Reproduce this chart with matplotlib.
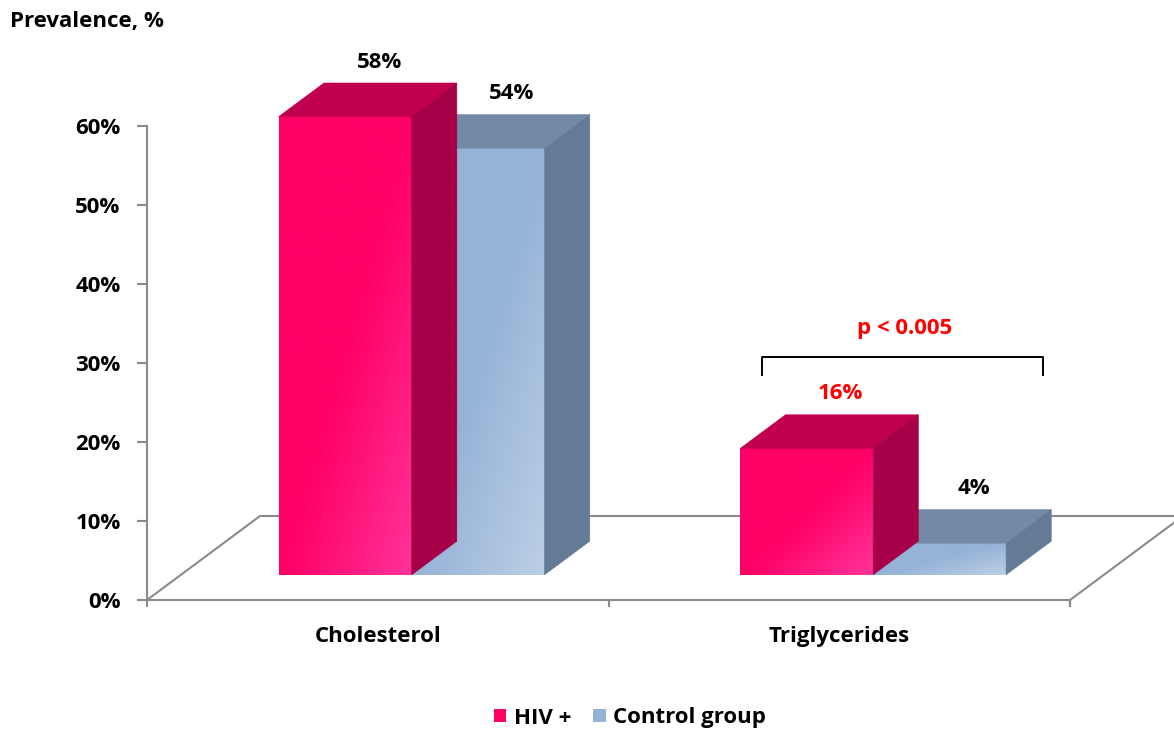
import numpy as np
import matplotlib
matplotlib.use("Agg")
import matplotlib.pyplot as plt
from matplotlib.patches import Polygon, Patch
from matplotlib.ticker import FuncFormatter

plt.rcParams['font.family'] = ['Open Sans', 'DejaVu Sans']
plt.rcParams['font.weight'] = 'bold'
FS = 16

categories = ['Cholesterol', 'Triglycerides']
series = ['HIV +', 'Control group']
hiv = [58, 16]
control = [54, 4]
label_colors = [['black', 'red'], ['black', 'black']]

# face colours: front, front highlight, top, side
styles = {
    'HIV +': ('#FF0066', '#FF3399', '#C0004E', '#A50048'),
    'Control group': ('#95B3D7', '#BCCFE6', '#7389A5', '#647A95'),
}

W, H = 1174, 729
fig = plt.figure(figsize=(W / 100, H / 100), dpi=100)
ax = fig.add_axes([147 / W, (H - 600) / H, (1070 - 147) / W, (600 - 126) / H])
ax.set_xlim(-0.5, 1.5)
ax.set_ylim(0, 60)

# oblique projection of the depth axis (full floor depth)
DX = 113 / 461.5
DY = 84 / 7.9
D0, D1 = 0.3, 0.7
BW = 0.288
GREY = '#8A8A8A'


def proj(x, z, d):
    return (x + d * DX, z + d * DY)


def face(pts, color, z):
    p = Polygon([proj(*q) for q in pts], closed=True, facecolor=color,
                edgecolor=color, lw=0.4, zorder=z, clip_on=False)
    ax.add_patch(p)


def bar3d(x0, x1, h, name, z):
    front, light, top, side = styles[name]
    fx0, fy0 = proj(x0, 0, D0)
    fx1, fy1 = proj(x1, h, D0)
    u, v = np.meshgrid(np.linspace(0, 1, 120), np.linspace(0, 1, 240))
    t = np.clip(u + v - 1.0, 0, 1)[..., None]
    c0 = np.array(matplotlib.colors.to_rgb(front))
    c1 = np.array(matplotlib.colors.to_rgb(light))
    img = c0 + (c1 - c0) * t
    ax.imshow(img, extent=(fx0, fx1, fy0, fy1), origin='upper',
              aspect='auto', zorder=z, clip_on=False, interpolation='bilinear')
    face([(x0, h, D0), (x1, h, D0), (x1, h, D1), (x0, h, D1)], top, z)
    face([(x1, 0, D0), (x1, 0, D1), (x1, h, D1), (x1, h, D0)], side, z)


# floor
floor = [proj(-0.5, 0, 0), proj(-0.5, 0, 1), proj(1.5, 0, 1), proj(1.5, 0, 0)]
ax.plot([p[0] for p in floor], [p[1] for p in floor], color=GREY, lw=1.5,
        clip_on=False, zorder=1, solid_joinstyle='miter')

for i, c in enumerate(categories):
    bar3d(i, i + BW, control[i], 'Control group', 3)
    bar3d(i - BW, i, hiv[i], 'HIV +', 4)
    for k, (vals, x0) in enumerate([(hiv, i - BW), (control, i)]):
        lx, ly = proj(x0 + BW / 2, vals[i], D0 + 0.75 * (D1 - D0))
        ly = vals[i] + D1 * DY
        ax.annotate(f'{vals[i]}%', (lx, ly), xytext=(0, 15),
                    textcoords='offset points', ha='center', va='center',
                    fontsize=FS, fontweight='bold', color=label_colors[k][i],
                    annotation_clip=False)

# significance bracket over triglycerides
bx0, bx1, by0, by1 = 0.833, 1.441, 28.5, 30.8
ax.plot([bx0, bx0, bx1, bx1], [by0, by1, by1, by0], color='black', lw=1.4,
        clip_on=False, zorder=5)
ax.text(1.1425, 34.4, 'p < 0.005', color='red', fontsize=FS,
        fontweight='bold', ha='center', va='center')

# axes styling
for s in ['top', 'right']:
    ax.spines[s].set_visible(False)
for s in ['left', 'bottom']:
    ax.spines[s].set_color(GREY)
    ax.spines[s].set_linewidth(1.5)
ax.spines['left'].set_zorder(2)
ax.set_facecolor('none')
ax.set_yticks(np.arange(0, 61, 10))
ax.yaxis.set_major_formatter(FuncFormatter(lambda v, p: f'{v:.0f}%'))
ax.tick_params(axis='y', length=7, width=1.5, color=GREY, pad=12,
               labelsize=FS)
ax.set_xticks(range(len(categories)))
ax.set_xticklabels(categories)
ax.set_xticks([-0.5, 0.5, 1.5], minor=True)
ax.tick_params(axis='x', which='major', length=0, pad=19, labelsize=FS)
ax.tick_params(axis='x', which='minor', length=5, width=1.5, color=GREY)
for lab in ax.get_xticklabels() + ax.get_yticklabels():
    lab.set_fontweight('bold')

fig.text(10 / W, 1 - 22 / H, 'Prevalence, %', fontsize=FS,
         fontweight='bold', va='center', ha='left')

handles = [Patch(facecolor=styles[n][0], edgecolor='none') for n in series]
fig.legend(handles, series, loc='center', bbox_to_anchor=(630 / W, 11 / H),
           ncol=2, frameon=False, handlelength=0.55,
           handleheight=0.55, handletextpad=0.35, columnspacing=1.0,
           prop={'weight': 'bold', 'size': FS})

fig.savefig('out.png', dpi=100)
